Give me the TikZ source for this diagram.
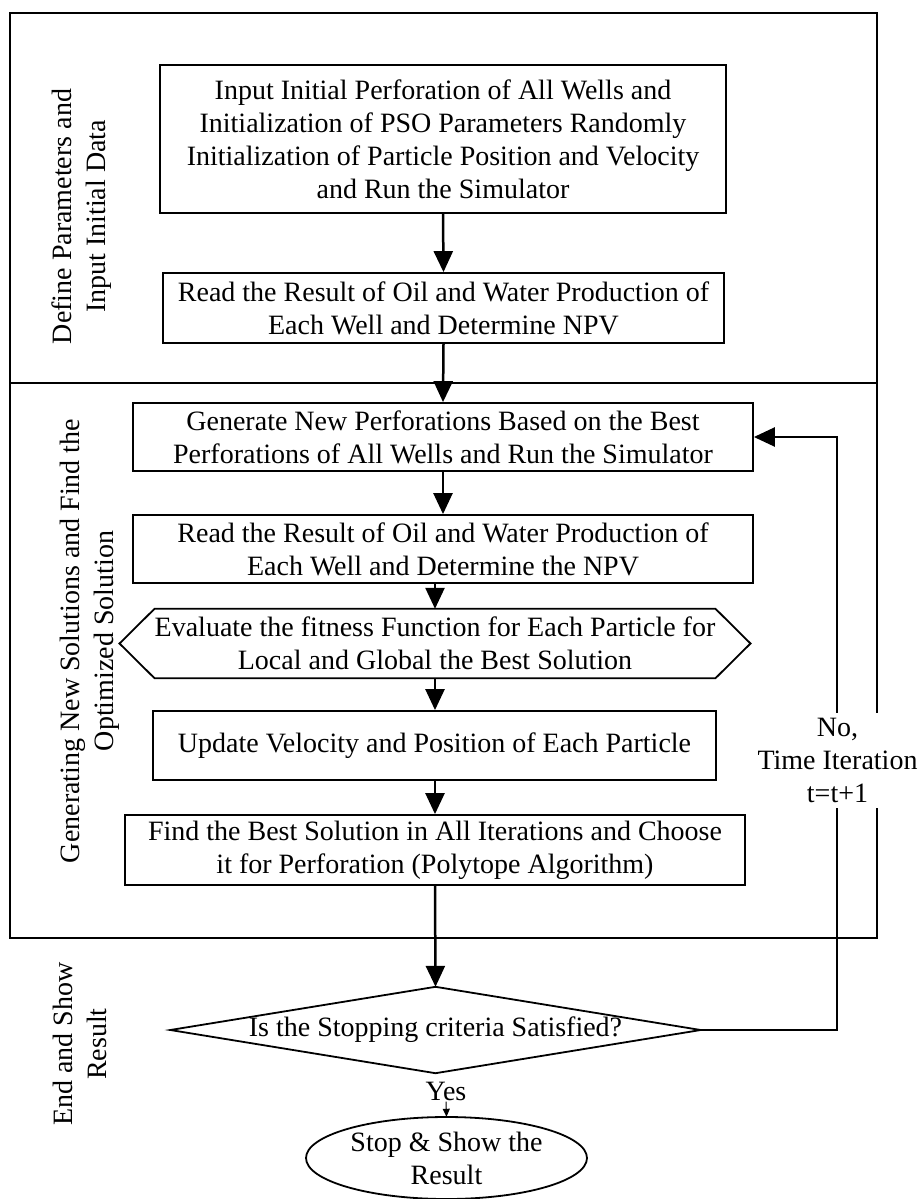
\documentclass[tikz,border=0pt]{standalone}
\usepackage{fontspec}
\setmainfont{Liberation Serif}
\usetikzlibrary{arrows.meta}
\begin{document}
\begin{tikzpicture}[x=1pt,y=-1pt,
  txt/.style={font=\fontsize{28}{33}\selectfont, align=center},
  boxnode/.style={txt, draw, line width=1.8pt, inner sep=0pt},
  shapenode/.style={txt, draw=none, inner sep=0pt},
  outline/.style={line width=1.8pt, line join=miter},
  frameline/.style={line width=2pt},
  arr/.style={line width=2.5pt, -{Triangle[length=21pt,width=19pt]}},
  smallarr/.style={line width=1pt, -{Triangle[length=8pt,width=7pt]}},
  lbl/.style={font=\fontsize{28}{34}\selectfont, align=center, rotate=90}]
\useasboundingbox (0,0) rectangle (920,1199);

% section frame
\draw[frameline] (10,13) rectangle (876.5,937.5);
\draw[frameline] (10,383) -- (876.5,383);

% section labels
\node[lbl] (l1) at (81.5,216.5) {Define Parameters and\\Input Initial Data};
\node[lbl] (l2) at (89.5,641) {Generating New Solutions and Find the\\Optimized Solution};
\node[lbl] (l3) at (80,1044) {End and Show\\Result};

% boxes
\node[boxnode, minimum width=566pt, minimum height=148pt] (b1) at (443,139)
  {Input Initial Perforation of All Wells and\\Initialization of PSO Parameters Randomly\\Initialization of Particle Position and Velocity\\and Run the Simulator};
\node[boxnode, minimum width=561pt, minimum height=70pt] (b2) at (443.5,308)
  {Read the Result of Oil and Water Production of\\Each Well and Determine NPV};
\node[boxnode, minimum width=620pt, minimum height=68pt] (b3) at (443,437)
  {Generate New Perforations Based on the Best\\Perforations of All Wells and Run the Simulator};
\node[boxnode, minimum width=620pt, minimum height=68pt] (b4) at (443,549)
  {Read the Result of Oil and Water Production of\\Each Well and Determine the NPV};
\node[shapenode, minimum width=550pt, minimum height=69pt] (hx) at (435,643.5)
  {Evaluate the fitness Function for Each Particle for\\Local and Global the Best Solution};
\draw[outline] (hx.north west) -- (hx.north east) -- ([xshift=35pt]hx.east) -- (hx.south east)
  -- (hx.south west) -- ([xshift=-35pt]hx.west) -- cycle;
\node[boxnode, minimum width=563pt, minimum height=69pt] (b5) at (434.5,745.5)
  {Update Velocity and Position of Each Particle};
\node[boxnode, minimum width=620pt, minimum height=70pt] (b6) at (435,850)
  {Find the Best Solution in All Iterations and Choose\\it for Perforation (Polytope Algorithm)};
\node[shapenode, minimum width=530pt, minimum height=86pt] (dm) at (435.5,1030)
  {Is the Stopping criteria Satisfied?};
\draw[outline] (dm.north) -- (dm.east) -- (dm.south) -- (dm.west) -- cycle;
\node[txt, inner sep=1pt] (yes) at (446,1091) {Yes};
\node[shapenode, minimum width=281pt, minimum height=82pt] (el) at (446.5,1158)
  {Stop \& Show the\\Result};
\draw[outline] (el.center) ellipse [x radius=140.5pt, y radius=41pt];

% connectors
\draw[arr] (b1.south) -- (b2.north);
\draw[arr] (b2.south) -- (b3.north);
\draw[arr] (b3.south) -- (b4.north);
\draw[arr] (hx.north |- b4.south) -- (hx.north);
\draw[arr] (hx.south) -- (hx.south |- b5.north);
\draw[arr] (hx.south |- b5.south) -- (hx.south |- b6.north);
\draw[arr] (hx.south |- b6.south) -- (dm.north);
\draw[smallarr] (yes.south) -- (el.north);
\coordinate (fb) at (837,1030);
\draw[arr] (dm.east) -- (fb) -- (fb |- b3.east) -- (b3.east);

% loop label
\node[txt, fill=white, inner xsep=2pt, inner ysep=5pt] (no) at (837.5,760.5)
  {No,\\Time Iteration\\t=t+1};
\end{tikzpicture}
\end{document}
